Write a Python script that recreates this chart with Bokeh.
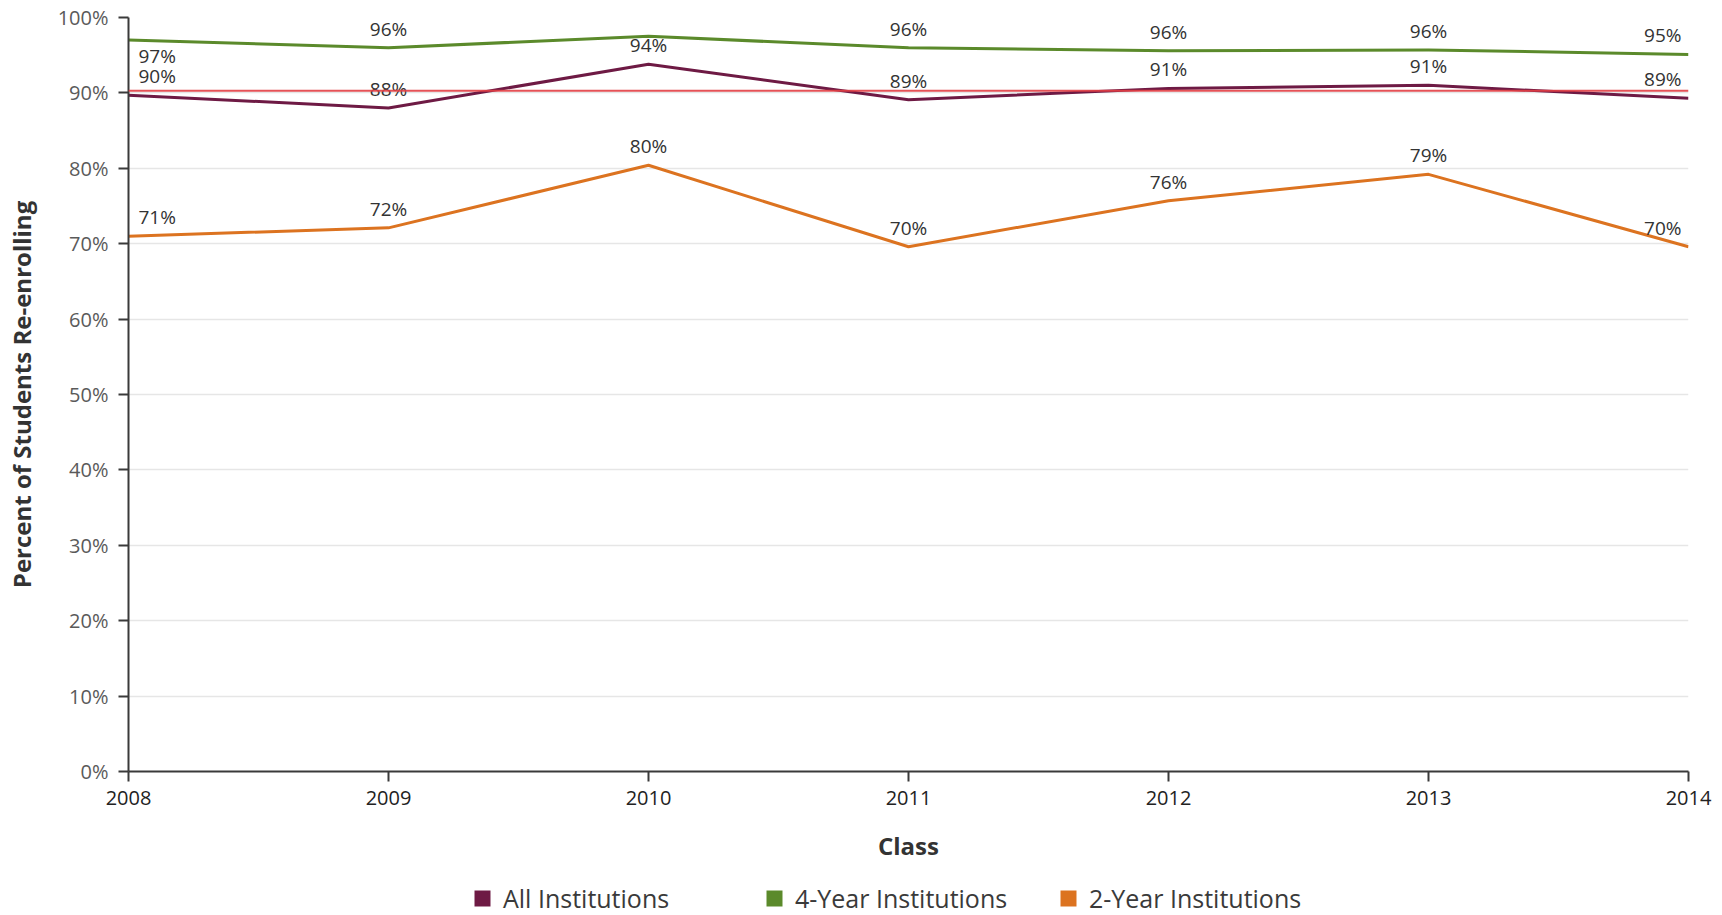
from bokeh.plotting import figure
from bokeh.layouts import column
from bokeh.models import (ColumnDataSource, FixedTicker, PrintfTickFormatter, Span,
                          Legend, LegendItem, Range1d)
from bokeh.embed import file_html
from bokeh.resources import INLINE
from bokeh.core.properties import value

# ---------------- data ----------------
years = [2008, 2009, 2010, 2011, 2012, 2013, 2014]
all_institutions = [89.7, 88.0, 93.8, 89.1, 90.6, 91.0, 89.3]
four_year = [97.0, 96.0, 97.5, 96.0, 95.6, 95.7, 95.1]
two_year = [71.0, 72.1, 80.4, 69.6, 75.7, 79.2, 69.6]
benchmark = 90.3
y_ticks = [0, 10, 20, 30, 40, 50, 60, 70, 80, 90, 100]
series_names = ["All Institutions", "4-Year Institutions", "2-Year Institutions"]
hidden_labels = {("4-Year Institutions", 2010)}

# ---------------- style ----------------
colors = {"All Institutions": "#6e1a44",
          "4-Year Institutions": "#5b8a2b",
          "2-Year Institutions": "#dc7320"}
FONT = "Open Sans"
W = 1722
NAN = float("nan")

p = figure(width=W, height=875, output_backend="svg", toolbar_location=None,
           x_range=Range1d(years[0], years[-1]), y_range=Range1d(0, 100),
           min_border_left=128, min_border_right=34, min_border_top=17,
           min_border_bottom=104)
p.outline_line_color = None
p.background_fill_color = "white"
p.border_fill_color = "white"

# axes
p.xaxis.ticker = FixedTicker(ticks=years)
p.yaxis.ticker = FixedTicker(ticks=y_ticks)
p.yaxis.formatter = PrintfTickFormatter(format="%d%%")
for ax in (p.xaxis[0], p.yaxis[0]):
    ax.axis_line_color = "#3a3a3a"
    ax.axis_line_width = 2
    ax.major_tick_line_color = "#3a3a3a"
    ax.major_tick_line_width = 2
    ax.major_tick_out = 10
    ax.major_tick_in = 0
    ax.minor_tick_line_color = None
    ax.major_label_text_font = FONT
    ax.axis_label_text_font = FONT
    ax.axis_label_text_font_style = "bold"
    ax.axis_label_text_color = "#333333"
    ax.axis_label_text_font_size = "24px"

p.xaxis.axis_label = "Class"
p.xaxis.major_label_text_font_size = "20px"
p.xaxis.major_label_text_color = "#222222"
p.xaxis.major_label_standoff = 9
p.xaxis.axis_label_standoff = 21

p.yaxis.axis_label = "Percent of Students Re-enrolling"
p.yaxis.major_label_text_font_size = "20px"
p.yaxis.major_label_text_color = "#5a5a5a"
p.yaxis.major_label_standoff = 10
p.yaxis.axis_label_standoff = 17

p.xgrid.grid_line_color = None
p.ygrid.grid_line_color = "#e6e6e6"
p.ygrid.grid_line_width = 1.5

series_values = {"All Institutions": all_institutions,
                 "4-Year Institutions": four_year,
                 "2-Year Institutions": two_year}

draw_order = ["4-Year Institutions", "All Institutions", "2-Year Institutions"]
for name in draw_order:
    vals = series_values[name]
    p.line(x=years, y=vals, line_color=colors[name], line_width=3, line_join="round")

# data labels
for name in draw_order:
    vals = series_values[name]
    xs, ys, txt, al, xo, yo, bl = [], [], [], [], [], [], []
    n = len(years)
    for i, (yr, v) in enumerate(zip(years, vals)):
        if (name, yr) in hidden_labels:
            continue
        xs.append(yr)
        ys.append(v)
        txt.append(f"{round(v)}%")
        if i == 0:
            al.append("left"); xo.append(10)
        elif i == n - 1:
            al.append("right"); xo.append(-7)
        else:
            al.append("center"); xo.append(0)
        if v > 96.8:  # would leave the plot at the top: flip below
            bl.append("top"); yo.append(3)
        else:
            bl.append("alphabetic"); yo.append(-19)
    src = ColumnDataSource(dict(x=xs, y=ys, t=txt, al=al, xo=xo, yo=yo, bl=bl))
    p.text(x="x", y="y", text="t", source=src, text_align="al", x_offset="xo",
           y_offset="yo", text_baseline="bl", text_font=value(FONT),
           text_font_size="19px", text_color="#333333")

# benchmark line
p.add_layout(Span(location=benchmark, dimension="width", line_color="#e23f45",
                  line_width=2, line_alpha=0.9))

# legend strip below the chart (its frame is aligned with the chart frame)
lf = figure(width=W, height=40, output_backend="svg", toolbar_location=None,
            x_range=Range1d(0, 1), y_range=Range1d(0, 1),
            min_border_left=0, min_border_right=0, min_border_top=0,
            min_border_bottom=0)
lf.axis.visible = False
lf.grid.visible = False
lf.outline_line_color = None

legend_x = [344, 636, 930]
for name, lx in zip(series_names, legend_x):
    r = lf.quad(left=[NAN], right=[NAN], top=[NAN], bottom=[NAN],
                fill_color=colors[name], line_color=None)
    lg = Legend(items=[LegendItem(label=name, renderers=[r])],
                location=(lx, 0), orientation="horizontal",
                glyph_width=20, glyph_height=20, label_standoff=11,
                label_text_font=FONT, label_text_font_size="25px",
                label_text_color="#3a3a3a", padding=0, margin=0,
                border_line_color=None, background_fill_alpha=0)
    lf.add_layout(lg, "center")

open("out.html", "w").write(file_html(column(p, lf, spacing=0), INLINE))
